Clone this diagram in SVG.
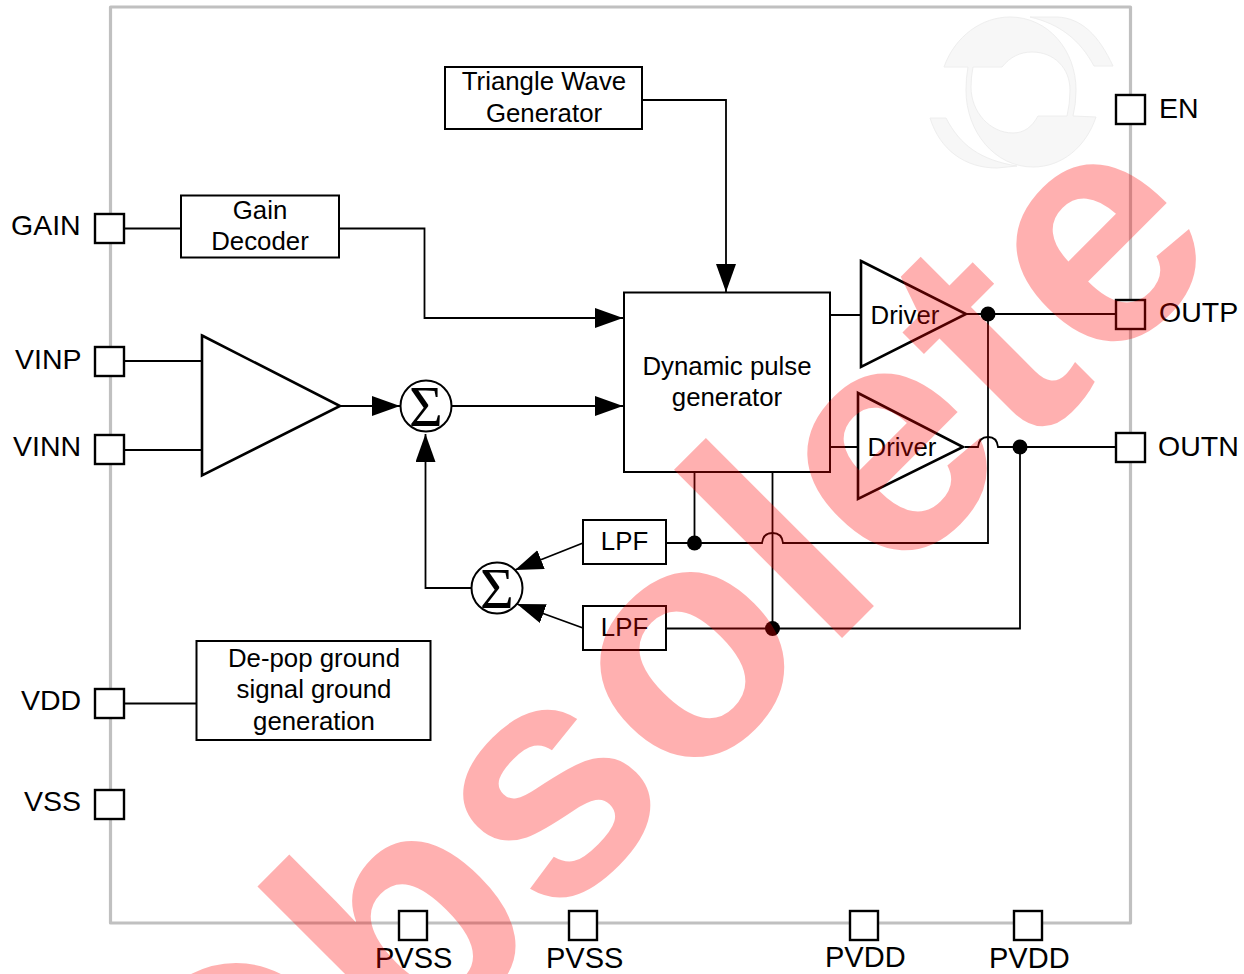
<svg xmlns="http://www.w3.org/2000/svg" width="1244" height="974" viewBox="0 0 1244 974">
<style>
text{font-family:"Liberation Sans",Arial,sans-serif;fill:#000}
.pl{font-size:28.500px}
.pb{font-size:29px}
.bl{font-size:25.800px;text-anchor:middle}
.pin,.box,.tri{fill:#fff;stroke:#000;stroke-linejoin:miter}
.pin{stroke-width:2.4}
.box{stroke-width:2}
.tri{stroke-width:2.6}
.w{fill:none;stroke:#000;stroke-width:1.8}
.sig{font-family:"Liberation Serif","DejaVu Serif",serif;font-size:58px;text-anchor:middle}
.dot{fill:#000}
.logo{fill:#f7f7f7;stroke:#eee;stroke-width:1;fill-rule:evenodd}
</style>
<defs>
<marker id="a" markerUnits="userSpaceOnUse" markerWidth="30" markerHeight="22" refX="28" refY="10" orient="auto"><path d="M0 0L28 10L0 20z" fill="#000"/></marker>
</defs>
<rect id="frame" x="110.500" y="7" width="1020" height="916" fill="#fff" stroke="#c0c0c0" stroke-width="3.200" stroke-linejoin="round"/>
<g id="logo">
<path class="logo" d="M944 67C955 36 982 17 1010 17C1048 17 1076 50 1076 90Q1076 104 1073 116L1096 117C1086 147 1062 167 1033 167C995 167 966 132 966 90Q966 78 968 67ZM973 67L1002 67C1010 57 1020 52 1032 52C1054 52 1070 68 1070 90Q1070 104 1067 116L1038 116C1032 127 1024 133 1013 133C990 133 971 112 971 87Q971 77 973 67Z"/>
<path class="logo" d="M1030 17L1057 17C1082 18 1099 36 1113 66L1094 66C1080 40 1060 24 1030 17Z"/>
<path class="logo" d="M930 118L946 118C960 145 980 160 1017 166L997 168C965 168 940 150 930 118Z"/>
</g>
<g id="connectors">
<path class="w" d="M124 228.500H181M124 361H202M124 450H202M124 703.500H196"/>
<path class="w" d="M642 100H726V292" marker-end="url(#a)"/>
<path class="w" d="M339 228.500H424.500V318H623" marker-end="url(#a)"/>
<path class="w" d="M341 406H400" marker-end="url(#a)"/>
<path class="w" d="M452 406H623" marker-end="url(#a)"/>
<path class="w" d="M471 588H425.500V434" marker-end="url(#a)"/>
<path class="w" d="M583 543L515 570" marker-end="url(#a)"/>
<path class="w" d="M583 628L517 604" marker-end="url(#a)"/>
<path class="w" d="M830 315H861M830 447H858"/>
<path class="w" d="M967 314H1116"/>
<path class="w" d="M988 314V543H783Q782 533 772.500 533Q763 533 762 543H666"/>
<path class="w" d="M965 447H978Q979 437 988 437Q997 437 998 447H1116"/>
<path class="w" d="M1020 447V628.500H666"/>
<path class="w" d="M694.500 472V543M772.500 472V628"/>
</g>
<g id="dots">
<circle class="dot" cx="694.500" cy="543" r="7.500"/><circle class="dot" cx="772.500" cy="628.500" r="7.500"/><circle class="dot" cx="988" cy="314" r="7.500"/><circle class="dot" cx="1020" cy="447" r="7.500"/>
</g>
<g id="triwave"><rect class="box" x="445" y="67" width="197" height="62"/><text class="bl" x="544" y="90">Triangle Wave</text><text class="bl" x="544" y="122">Generator</text></g>
<g id="gaindec"><rect class="box" x="181" y="195.500" width="158" height="62"/><text class="bl" x="260" y="219">Gain</text><text class="bl" x="260" y="250">Decoder</text></g>
<g id="amp"><path class="tri" d="M202 335.500L340 406L202 475.500Z"/></g>
<g id="sum1"><circle cx="426" cy="406" r="25.500" fill="#fff" stroke="#000" stroke-width="2"/><text class="sig" x="426" y="426">Σ</text></g>
<g id="sum2"><circle cx="497" cy="588" r="25.500" fill="#fff" stroke="#000" stroke-width="2"/><text class="sig" x="497" y="608">Σ</text></g>
<g id="dpg"><rect class="box" x="624" y="292.500" width="206" height="179.500"/><text class="bl" x="727" y="375">Dynamic pulse</text><text class="bl" x="727" y="406">generator</text></g>
<g id="drv1"><path class="tri" d="M861 261L966 314L861 367Z"/><text class="bl" x="905" y="324">Driver</text></g>
<g id="drv2"><path class="tri" d="M858 393L963 447L858 499Z"/><text class="bl" x="902" y="456">Driver</text></g>
<g id="lpf1"><rect class="box" x="583" y="520" width="83" height="44"/><text class="bl" x="624.500" y="550">LPF</text></g>
<g id="lpf2"><rect class="box" x="583" y="606" width="83" height="44"/><text class="bl" x="624.500" y="636">LPF</text></g>
<g id="depop"><rect class="box" x="196.500" y="641" width="234" height="99"/><text class="bl" x="314" y="667">De-pop ground</text><text class="bl" x="314" y="698">signal ground</text><text class="bl" x="314" y="730">generation</text></g>
<g id="p-gain"><rect class="pin" x="95" y="214" width="29" height="29"/><text class="pl" x="11" y="235">GAIN</text></g>
<g id="p-vinp"><rect class="pin" x="95" y="347" width="29" height="29"/><text class="pl" x="15" y="369">VINP</text></g>
<g id="p-vinn"><rect class="pin" x="95" y="435" width="29" height="29"/><text class="pl" x="13" y="456">VINN</text></g>
<g id="p-vdd"><rect class="pin" x="95" y="689" width="29" height="29"/><text class="pl" x="21" y="710">VDD</text></g>
<g id="p-vss"><rect class="pin" x="95" y="790" width="29" height="29"/><text class="pl" x="24" y="811">VSS</text></g>
<g id="p-en"><rect class="pin" x="1116" y="95" width="29" height="29"/><text class="pl" x="1159" y="118">EN</text></g>
<g id="p-outp"><rect class="pin" x="1116" y="300" width="29" height="29"/><text class="pl" x="1159" y="322">OUTP</text></g>
<g id="p-outn"><rect class="pin" x="1116" y="433" width="29" height="29"/><text class="pl" x="1158" y="456">OUTN</text></g>
<g id="p-pvss1"><rect class="pin" x="399" y="911" width="28" height="29"/><text class="pb" x="375" y="968">PVSS</text></g>
<g id="p-pvss2"><rect class="pin" x="569" y="911" width="28" height="29"/><text class="pb" x="546" y="968">PVSS</text></g>
<g id="p-pvdd1"><rect class="pin" x="850" y="911" width="28" height="29"/><text class="pb" x="825" y="967">PVDD</text></g>
<g id="p-pvdd2"><rect class="pin" x="1014" y="911" width="28" height="29"/><text class="pb" x="989" y="968">PVDD</text></g>
<text id="watermark" transform="translate(227.500 1252.500) rotate(-45)" font-size="328" font-weight="700" letter-spacing="2" style="fill:#f00;fill-opacity:.31">Obsolete</text>
</svg>
